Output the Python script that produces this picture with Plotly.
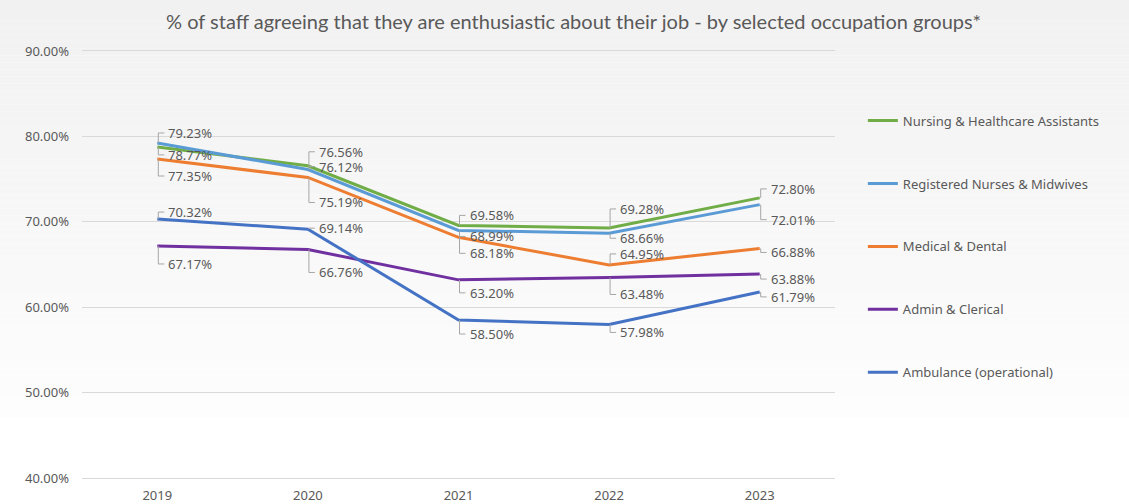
#%%
# imports

import plotly.graph_objects as go


#%%

# data

years = [2019, 2020, 2021, 2022, 2023]

nursing_hca = [78.77, 76.56, 69.58, 69.28, 72.80]
registered_nurses = [79.23, 76.12, 68.99, 68.66, 72.01]
medical_dental = [77.35, 75.19, 68.18, 64.95, 66.88]
admin_clerical = [67.17, 66.76, 63.20, 63.48, 63.88]
ambulance = [70.32, 69.14, 58.50, 57.98, 61.79]

series_names = ['Nursing & Healthcare Assistants', 'Registered Nurses & Midwives',
                'Medical & Dental', 'Admin & Clerical', 'Ambulance (operational)']
series_values = [nursing_hca, registered_nurses, medical_dental, admin_clerical, ambulance]
series_colors = ['#70ad47', '#5b9bd5', '#ed7d31', '#7030a0', '#4472c4']

# where each data label sits, pixels below (+) / above (-) its point
label_offsets = [
    [8, -14, -10, -19, -9],
    [-10, -3, 6, 5, 15],
    [17, 25, 16, -11, 4],
    [18, 23, 13, 17, 5],
    [-7, -1, 14, 8, 5],
]

title = '% of staff agreeing that they are enthusiastic about their job - by selected occupation groups*'

font_main = 'Noto Sans'
grey_text = '#595959'


#%%

fig = go.Figure()

for name, vals, col in zip(series_names, series_values, series_colors):
    fig.add_trace(go.Scatter(
        x=years, y=vals, name=name, mode='lines',
        line=dict(color=col, width=3),
        legendgroup=name,
    ))

# data labels with little leader brackets
for vals, offs in zip(series_values, label_offsets):
    for yr, v, dy in zip(years, vals, offs):
        fig.add_annotation(
            x=yr, y=v, xref='x', yref='y',
            text=f'{v:.2f}%', showarrow=False,
            xanchor='left', yanchor='middle',
            xshift=9, yshift=-dy,
            font=dict(family=font_main, size=13, color=grey_text),
        )
        fig.add_shape(
            type='path', xref='x', yref='y',
            xsizemode='pixel', ysizemode='pixel',
            xanchor=yr, yanchor=v,
            path=f'M1,0 V{-dy} H7',
            line=dict(color='#a6a6a6', width=1),
        )

# background gradient, grey at top fading to white
plot_l, plot_r, plot_t, plot_b = 82, 294, 51, 26
W, H = 1129, 504
pw, ph = W - plot_l - plot_r, H - plot_t - plot_b
n_bands = 60
grad_bottom = 417
for i in range(n_bands):
    y_top = grad_bottom * i / n_bands
    y_bot = grad_bottom * (i + 1) / n_bands
    c = int(round(241 + (253 - 241) * i / (n_bands - 1)))
    fig.add_shape(
        type='rect', xref='paper', yref='paper', layer='below',
        x0=-plot_l / pw, x1=(W - plot_l) / pw,
        y0=(H - plot_b - y_bot) / ph, y1=(H - plot_b - y_top) / ph,
        fillcolor=f'rgb({c},{c},{c})', line=dict(width=0),
    )

fig.update_layout(
    width=W, height=H,
    margin=dict(l=plot_l, r=plot_r, t=plot_t, b=plot_b),
    paper_bgcolor='white',
    plot_bgcolor='rgba(0,0,0,0)',
    title=dict(text=title, x=0.508, xanchor='center', y=1 - 22 / H, yanchor='middle',
               font=dict(family='Lato', size=20, color=grey_text)),
    showlegend=True,
    legend=dict(
        x=1.037, y=0.872, xanchor='left', yanchor='top',
        bgcolor='rgba(0,0,0,0)',
        font=dict(family=font_main, size=13, color=grey_text),
        tracegroupgap=43, itemwidth=30,
    ),
    xaxis=dict(
        range=[2018.5, 2023.5], tickvals=years, ticktext=[str(y) for y in years],
        showgrid=False, zeroline=False, automargin=False,
        showline=True, mirror=True, linecolor='#d9d9d9', linewidth=1,
        ticks='', ticklabelstandoff=5,
        tickfont=dict(family=font_main, size=13, color=grey_text),
    ),
    yaxis=dict(
        range=[40, 90], dtick=10, tickformat='.2f', ticksuffix='%',
        showgrid=True, gridcolor='#d9d9d9', gridwidth=1,
        zeroline=False, automargin=False, ticks='', ticklabelstandoff=12,
        tickfont=dict(family=font_main, size=13, color=grey_text),
    ),
)

# drop the page's default body margin so the figure sits at the window corner
fig.write_html('out.html', config={'displayModeBar': False},
               post_script="document.body.style.margin='0';")
